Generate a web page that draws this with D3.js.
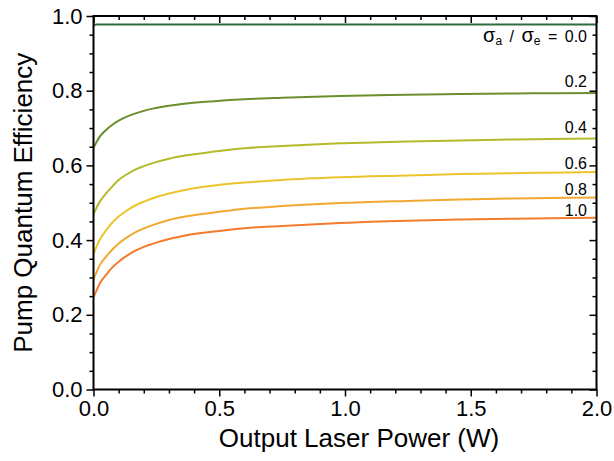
<!DOCTYPE html>
<html>
<head>
<meta charset="utf-8">
<script src="https://cdn.jsdelivr.net/npm/d3@7"></script>
<style>
  html, body { margin: 0; padding: 0; background: #fff; }
  svg { display: block; font-family: Arial, "Liberation Sans", sans-serif; }
</style>
</head>
<body>
<svg id="chart" width="614" height="461"></svg>
<script>
// Output laser power (W) sample positions
const power = [0, 0.01, 0.025, 0.05, 0.075, 0.1, 0.13, 0.17, 0.2, 0.235, 0.3, 0.37, 0.48, 0.6, 0.75, 0.98, 1.25, 1.46, 1.75, 2.0];

// Pump quantum efficiency for each cross-section ratio sigma_a / sigma_e
const ratioLabels = ["0.0", "0.2", "0.4", "0.6", "0.8", "1.0"];
const eff00 = [0.974, 0.977, 0.977, 0.977, 0.977, 0.977, 0.977, 0.977, 0.977, 0.977, 0.977, 0.977, 0.977, 0.977, 0.977, 0.977, 0.977, 0.977, 0.977, 0.977];
const eff02 = [0.648, 0.660, 0.677, 0.695, 0.709, 0.720, 0.730, 0.740, 0.746, 0.752, 0.760, 0.766, 0.772, 0.777, 0.781, 0.786, 0.789, 0.791, 0.793, 0.794];
const eff04 = [0.469, 0.484, 0.503, 0.525, 0.544, 0.561, 0.575, 0.590, 0.598, 0.606, 0.618, 0.627, 0.637, 0.646, 0.652, 0.659, 0.664, 0.667, 0.670, 0.672];
const eff06 = [0.363, 0.379, 0.401, 0.426, 0.447, 0.463, 0.478, 0.494, 0.503, 0.512, 0.525, 0.535, 0.546, 0.554, 0.561, 0.568, 0.573, 0.577, 0.580, 0.582];
const eff08 = [0.295, 0.311, 0.333, 0.356, 0.375, 0.391, 0.406, 0.422, 0.431, 0.440, 0.454, 0.464, 0.474, 0.484, 0.491, 0.499, 0.505, 0.509, 0.512, 0.514];
const eff10 = [0.247, 0.262, 0.284, 0.307, 0.327, 0.342, 0.357, 0.373, 0.382, 0.390, 0.403, 0.413, 0.423, 0.432, 0.438, 0.446, 0.452, 0.455, 0.458, 0.460];
const colors = ["#2f6d3d", "#6b8f2c", "#b5ba2c", "#ecc42c", "#f2a932", "#f47a2c"];

const xTicks = [0, 0.5, 1.0, 1.5, 2.0];
const yTicks = [0, 0.2, 0.4, 0.6, 0.8, 1.0];

const series = [eff00, eff02, eff04, eff06, eff08, eff10];

const W = 614, H = 461;
const m = { left: 93.5, right: 17.5, top: 16, bottom: 71.5 };
const svg = d3.select("#chart");

const x = d3.scaleLinear().domain([0, 2]).range([m.left, W - m.right]);
const y = d3.scaleLinear().domain([0, 1]).range([H - m.bottom, m.top]);

const xMinor = d3.range(0, 2.0001, 0.1).filter(v => Math.abs(v * 2 - Math.round(v * 2)) > 1e-6);
const yMinor = d3.range(0, 1.0001, 0.05).filter(v => Math.abs(v * 5 - Math.round(v * 5)) > 1e-6);

function styleAxis(g) {
  g.select(".domain").remove();
  g.selectAll(".tick line").attr("stroke", "#000").attr("stroke-width", 1.5);
  g.selectAll(".tick text").attr("fill", "#000").style("font-size", "22px")
    .style("font-family", "Arial, 'Liberation Sans', sans-serif");
}

const fmt = d3.format(".1f");

// bottom: outward ticks with labels
svg.append("g").attr("transform", `translate(0,${y(0)})`)
  .call(d3.axisBottom(x).tickValues(xTicks).tickFormat(fmt).tickSize(7).tickPadding(4))
  .call(styleAxis);
svg.append("g").attr("transform", `translate(0,${y(0)})`)
  .call(d3.axisBottom(x).tickValues(xMinor).tickFormat("").tickSize(4))
  .call(styleAxis);

// left: outward ticks with labels
svg.append("g").attr("transform", `translate(${x(0)},0)`)
  .call(d3.axisLeft(y).tickValues(yTicks).tickFormat(fmt).tickSize(7).tickPadding(4))
  .call(styleAxis);
svg.append("g").attr("transform", `translate(${x(0)},0)`)
  .call(d3.axisLeft(y).tickValues(yMinor).tickFormat("").tickSize(4))
  .call(styleAxis);

// top: inward ticks
svg.append("g").attr("transform", `translate(0,${y(1)})`)
  .call(d3.axisBottom(x).tickValues(xTicks).tickFormat("").tickSize(7))
  .call(styleAxis);
svg.append("g").attr("transform", `translate(0,${y(1)})`)
  .call(d3.axisBottom(x).tickValues(xMinor).tickFormat("").tickSize(4))
  .call(styleAxis);

// right: inward ticks
svg.append("g").attr("transform", `translate(${x(2)},0)`)
  .call(d3.axisLeft(y).tickValues(yTicks).tickFormat("").tickSize(7))
  .call(styleAxis);
svg.append("g").attr("transform", `translate(${x(2)},0)`)
  .call(d3.axisLeft(y).tickValues(yMinor).tickFormat("").tickSize(4))
  .call(styleAxis);

// efficiency curves
const line = d3.line()
  .x((d, i) => x(power[i]))
  .y(d => y(d))
  .curve(d3.curveMonotoneX);

svg.append("g").selectAll("path")
  .data(series)
  .join("path")
  .attr("d", d => line(d))
  .attr("fill", "none")
  .attr("stroke", (d, i) => colors[i])
  .attr("stroke-width", 2);

// frame
svg.append("rect")
  .attr("x", x(0)).attr("y", y(1))
  .attr("width", x(2) - x(0)).attr("height", y(0) - y(1))
  .attr("fill", "none").attr("stroke", "#000").attr("stroke-width", 2);

// curve labels
const labelBase = [42, 87, 133, 169, 195, 216];
const labels = svg.append("g").attr("font-size", 16).attr("fill", "#000");
ratioLabels.forEach((lab, i) => {
  const t = labels.append("text").attr("x", 587).attr("y", labelBase[i])
    .attr("text-anchor", "end");
  if (i === 0) {
    t.style("word-spacing", "3px");
    t.append("tspan").text("σ").style("font-size", "20px");
    t.append("tspan").attr("dy", 3).text("a").style("font-size", "12px");
    t.append("tspan").attr("dy", -3).text(" / ");
    t.append("tspan").text("σ").style("font-size", "20px");
    t.append("tspan").attr("dy", 3).text("e").style("font-size", "12px");
    t.append("tspan").attr("dy", -3).text(" = " + lab);
  } else {
    t.text(lab);
  }
});

// axis titles
svg.append("text")
  .attr("x", 359).attr("y", 447)
  .attr("text-anchor", "middle")
  .style("font-size", "26px")
  .text("Output Laser Power (W)");

svg.append("text")
  .attr("transform", `translate(32,${(y(0) + y(1)) / 2}) rotate(-90)`)
  .attr("text-anchor", "middle")
  .style("font-size", "26px")
  .text("Pump Quantum Efficiency");
</script>
</body>
</html>
